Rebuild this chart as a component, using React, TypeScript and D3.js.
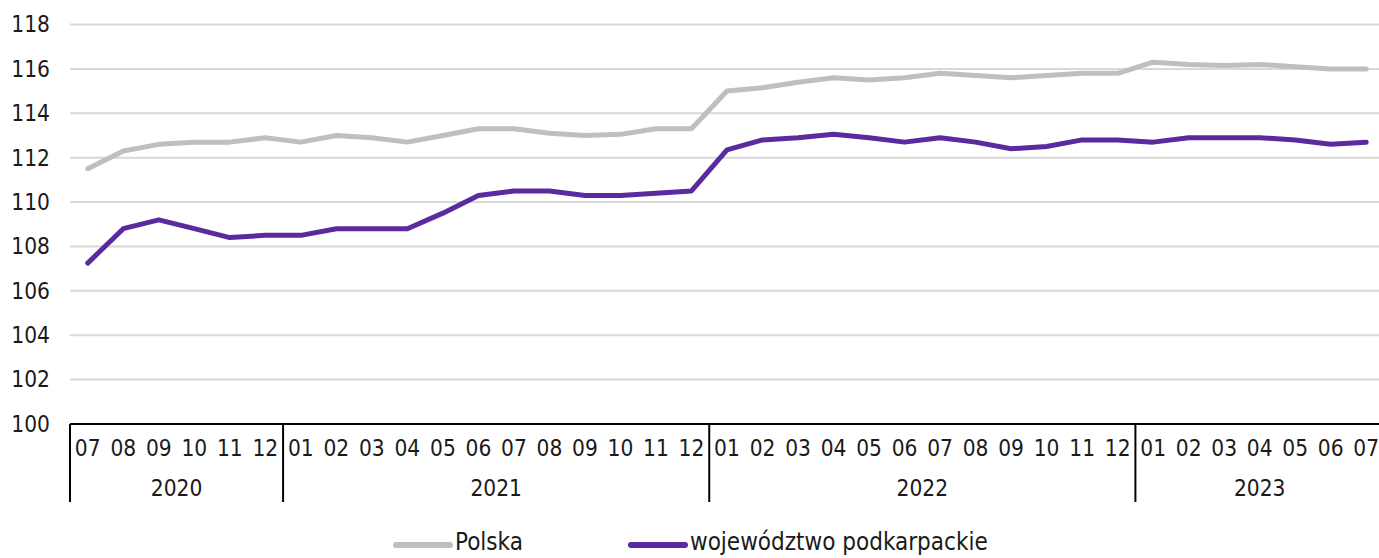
import React, { useRef, useEffect } from 'react';
import * as d3 from 'd3';

const months = [
  '07', '08', '09', '10', '11', '12',
  '01', '02', '03', '04', '05', '06', '07', '08', '09', '10', '11', '12',
  '01', '02', '03', '04', '05', '06', '07', '08', '09', '10', '11', '12',
  '01', '02', '03', '04', '05', '06', '07',
];
const years = [
  { label: '2020', count: 6 },
  { label: '2021', count: 12 },
  { label: '2022', count: 12 },
  { label: '2023', count: 7 },
];
const polska = [
  111.5, 112.3, 112.6, 112.7, 112.7, 112.9,
  112.7, 113.0, 112.9, 112.7, 113.0, 113.3, 113.3, 113.1, 113.0, 113.05, 113.3, 113.3,
  115.0, 115.15, 115.4, 115.6, 115.5, 115.6, 115.8, 115.7, 115.6, 115.7, 115.8, 115.8,
  116.3, 116.2, 116.15, 116.2, 116.1, 116.0, 116.0,
];
const podkarpackie = [
  107.25, 108.8, 109.2, 108.8, 108.4, 108.5,
  108.5, 108.8, 108.8, 108.8, 109.5, 110.3, 110.5, 110.5, 110.3, 110.3, 110.4, 110.5,
  112.35, 112.8, 112.9, 113.05, 112.9, 112.7, 112.9, 112.7, 112.4, 112.5, 112.8, 112.8,
  112.7, 112.9, 112.9, 112.9, 112.8, 112.6, 112.7,
];
const yTicks = [100, 102, 104, 106, 108, 110, 112, 114, 116, 118];

const W = 1379;
const H = 558;
const FONT = '"DejaVu Sans Condensed", "DejaVu Sans", sans-serif';

const App = () => {
  const svgRef = useRef<SVGSVGElement>(null);

  useEffect(() => {
    const svg = d3.select(svgRef.current);
    svg.selectAll('*').remove();

    const margin = { left: 70, top: 24.5, bottom: 134 };
    // last band runs a little past the right edge of the picture
    const x = d3.scaleBand<number>()
      .domain(months.map((_, i) => i))
      .range([margin.left, 1384]);
    const y = d3.scaleLinear().domain([100, 118]).range([H - margin.bottom, margin.top]);
    const y0 = y(100);

    const txt = (sel: any, size = 22.5) =>
      sel.attr('font-family', FONT)
        .attr('font-stretch', 'condensed')
        .attr('font-size', size)
        .attr('fill', '#1a1a1a');

    // gridlines
    svg.append('g')
      .selectAll('line')
      .data(yTicks.filter(t => t > 100))
      .enter().append('line')
      .attr('x1', margin.left).attr('x2', W)
      .attr('y1', d => y(d)).attr('y2', d => y(d))
      .attr('stroke', '#d9d9d9').attr('stroke-width', 2);

    // y labels
    svg.append('g')
      .selectAll('text')
      .data(yTicks)
      .enter().append('text')
      .attr('x', 50).attr('y', d => y(d))
      .attr('dy', '0.35em')
      .attr('text-anchor', 'end')
      .call(txt)
      .text(d => d);

    // x axis line
    svg.append('line')
      .attr('x1', margin.left).attr('x2', W)
      .attr('y1', y0).attr('y2', y0)
      .attr('stroke', '#000').attr('stroke-width', 2);

    // month labels
    svg.append('g')
      .selectAll('text')
      .data(months)
      .enter().append('text')
      .attr('x', (_, i) => x(i)! + x.bandwidth() / 2)
      .attr('y', y0 + 24)
      .attr('dy', '0.35em')
      .attr('text-anchor', 'middle')
      .call(txt)
      .text(d => d);

    // year groups
    let start = 0;
    const groups = years.map(yr => {
      const g = { ...yr, start };
      start += yr.count;
      return g;
    });
    const yg = svg.append('g');
    groups.forEach(g => {
      const xs = x(g.start)!;
      const xe = g.start + g.count < months.length ? x(g.start + g.count)! : 1384;
      yg.append('line')
        .attr('x1', xs).attr('x2', xs)
        .attr('y1', y0).attr('y2', y0 + 78)
        .attr('stroke', '#000').attr('stroke-width', 2);
      yg.append('text')
        .attr('x', (xs + xe) / 2).attr('y', y0 + 64)
        .attr('dy', '0.35em')
        .attr('text-anchor', 'middle')
        .call(txt)
        .text(g.label);
    });

    const line = d3.line<number>()
      .x((_, i) => x(i)! + x.bandwidth() / 2)
      .y(d => y(d));

    svg.append('path')
      .datum(polska)
      .attr('d', line)
      .attr('fill', 'none')
      .attr('stroke', '#bfbfbf')
      .attr('stroke-width', 5)
      .attr('stroke-linejoin', 'round')
      .attr('stroke-linecap', 'round');

    svg.append('path')
      .datum(podkarpackie)
      .attr('d', line)
      .attr('fill', 'none')
      .attr('stroke', '#5b2a9e')
      .attr('stroke-width', 5)
      .attr('stroke-linejoin', 'round')
      .attr('stroke-linecap', 'round');

    // legend
    const legend = [
      { label: 'Polska', color: '#bfbfbf', x: 396 },
      { label: 'województwo podkarpackie', color: '#5b2a9e', x: 631 },
    ];
    const lg = svg.append('g');
    legend.forEach(l => {
      lg.append('line')
        .attr('x1', l.x).attr('x2', l.x + 54)
        .attr('y1', 545).attr('y2', 545)
        .attr('stroke', l.color).attr('stroke-width', 6)
        .attr('stroke-linecap', 'round');
      lg.append('text')
        .attr('x', l.x + 59).attr('y', 542)
        .attr('dy', '0.35em')
        .call(txt, 24)
        .text(l.label);
    });
  }, []);

  return (
    <svg
      ref={svgRef}
      width={W}
      height={H}
      style={{ position: 'absolute', left: 0, top: 0, background: '#fff' }}
    />
  );
};

export default App;
